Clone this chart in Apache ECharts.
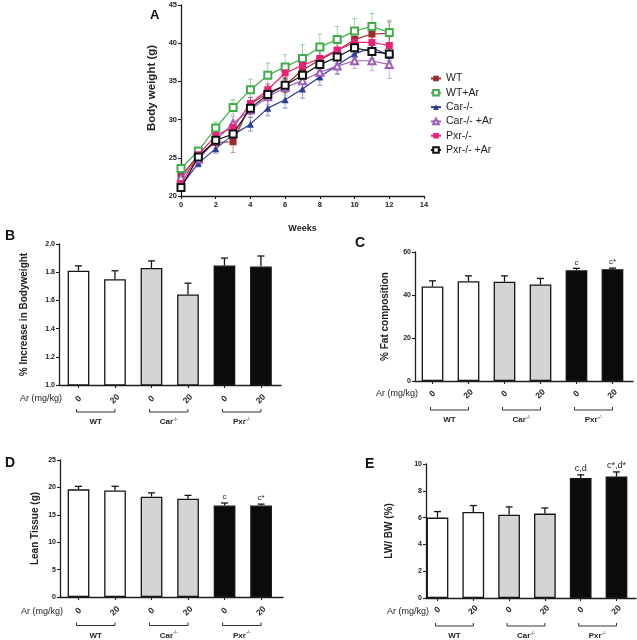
<!DOCTYPE html>
<html><head><meta charset="utf-8">
<script src="https://cdn.jsdelivr.net/npm/echarts@6/dist/echarts.min.js"></script>
<style>html,body{margin:0;padding:0;background:#fff}#c{width:637px;height:640px}</style>
</head><body><div id="c"></div>
<script>
// ---------- DATA ----------
const weeks = [0,1,2,3,4,5,6,7,8,9,10,11,12];
const seriesNames = ['WT','WT+Ar','Car-/-','Car-/- +Ar','Pxr-/-','Pxr-/- +Ar'];
const wt      = [22.6,25.3,27.0,27.1,32.0,33.5,34.5,36.5,37.8,39.0,40.5,41.2,41.3];
const wtAr    = [23.6,25.9,28.9,31.6,33.9,35.8,36.9,38.0,39.5,40.5,41.6,42.2,41.4];
const car     = [21.3,24.3,26.2,28.0,29.4,31.5,32.6,34.0,35.6,37.1,38.6,39.4,38.4];
const carAr   = [22.4,24.8,27.3,29.5,31.3,33.0,34.2,35.1,36.2,37.0,37.7,37.7,37.2];
const pxr     = [21.6,25.4,27.9,29.0,32.1,33.9,36.1,37.1,38.0,39.1,40.1,40.1,39.7];
const pxrAr   = [21.1,25.1,27.3,28.1,31.5,33.3,34.5,35.8,37.2,38.2,39.4,38.9,38.6];
const errWt    = [0.6,0.5,0.7,1.4,0.9,1.0,1.0,1.2,1.3,1.3,1.4,1.5,1.5];
const errWtAr  = [0.5,0.3,0.8,1.0,1.4,1.6,1.6,1.8,1.7,1.7,1.6,1.7,1.6];
const errCar   = [0.4,0.5,0.6,0.8,0.9,1.0,1.1,1.2,1.1,1.1,1.0,1.0,1.0];
const errCarAr = [0.6,0.6,0.7,0.9,1.0,1.0,1.0,1.1,1.1,1.1,1.0,1.3,1.8];
const errPxr   = [0.5,0.5,0.6,0.8,0.8,0.8,0.9,1.0,1.0,1.0,1.0,1.1,1.1];
const errPxrAr = [0.4,0.4,0.6,0.7,0.8,0.8,0.9,0.9,0.9,0.9,0.8,0.9,0.9];

const doseLabels = ['0','20','0','20','0','20'];
const groupNames = ['WT','Car','Pxr'];
const groupSup   = ['','-/-','-/-'];

const bwIncrease     = [1.81,1.75,1.83,1.642,1.847,1.84];
const bwIncreaseErr  = [0.035,0.06,0.05,0.08,0.053,0.075];
const bwIncreaseNote = ['','','','','',''];
const fatPct     = [44.0,46.4,46.2,44.9,51.5,52.0];
const fatPctErr  = [2.6,2.5,2.7,2.8,0.9,0.5];
const fatPctNote = ['','','','','c','c*'];
const leanTissue     = [19.64,19.45,18.3,17.95,16.7,16.7];
const leanTissueErr  = [0.55,0.75,0.7,0.6,0.45,0.25];
const leanTissueNote = ['','','','','c','c*'];
const lwbw     = [6.0,6.42,6.22,6.3,8.96,9.06];
const lwbwErr  = [0.45,0.48,0.58,0.42,0.23,0.35];
const lwbwNote = ['','','','','c,d','c*,d*'];

// ---------- STYLE ----------
const FONT = '"Liberation Sans", Arial, sans-serif';
const AX = '#1e1e1e';
const lineColors  = ['#9e2b2c','#3fae4a','#2b3c94','#9d5db6','#ea2279','#111111'];
const lineSymbols = ['rect','emptyRect','triangle','emptyTriangle','rect','emptyRect'];
const barFills = ['#ffffff','#ffffff','#d3d5d4','#d3d5d4','#0b0b0b','#0b0b0b'];

const chart = echarts.init(document.getElementById('c'));

const lineData = [wt,wtAr,car,carAr,pxr,pxrAr];
const lineErr  = [errWt,errWtAr,errCar,errCarAr,errPxr,errPxrAr];

function axisBase(){
  return {
    axisLine:{show:true,onZero:false,lineStyle:{color:AX,width:1.3}},
    axisTick:{show:true,length:3,lineStyle:{color:AX,width:1.1}},
    splitLine:{show:false}
  };
}

const grids = [
  {left:181, top:5,   width:243, height:191},
  {left:59,  top:244, width:222, height:141},
  {left:415, top:252, width:218, height:129},
  {left:60,  top:460, width:223, height:137},
  {left:426, top:464, width:210, height:134}
];

const xAxes = [], yAxes = [], series = [];

// Panel A
xAxes.push(Object.assign(axisBase(), {
  type:'value', gridIndex:0, min:0, max:14, interval:2,
  name:'Weeks', nameLocation:'middle', nameGap:28,
  nameTextStyle:{fontFamily:FONT,fontWeight:'bold',fontSize:9,color:'#222'},
  axisLabel:{fontFamily:FONT,fontWeight:'bold',fontSize:7.5,color:'#222',margin:5}
}));
yAxes.push(Object.assign(axisBase(), {
  type:'value', gridIndex:0, min:20, max:45, interval:5,
  axisLabel:{fontFamily:FONT,fontWeight:'bold',fontSize:7.5,color:'#222',margin:4}
}));

function lineErrRender(color){
  return function(params, api){
    const x = api.value(0), v = api.value(1), e = api.value(2);
    const t = api.coord([x, v+e]), b = api.coord([x, v-e]);
    const cw = 2.5;
    const st = {stroke:color, lineWidth:1, opacity:0.5};
    return {type:'group', children:[
      {type:'line', shape:{x1:t[0],y1:t[1],x2:b[0],y2:b[1]}, style:st},
      {type:'line', shape:{x1:t[0]-cw,y1:t[1],x2:t[0]+cw,y2:t[1]}, style:st},
      {type:'line', shape:{x1:b[0]-cw,y1:b[1],x2:b[0]+cw,y2:b[1]}, style:st}
    ]};
  };
}

lineData.forEach((arr, i) => {
  series.push({
    type:'custom', xAxisIndex:0, yAxisIndex:0, z:1, silent:true,
    renderItem: lineErrRender(lineColors[i]),
    data: weeks.map((w, j) => [w, arr[j], lineErr[i][j]])
  });
});
lineData.forEach((arr, i) => {
  series.push({
    name: seriesNames[i], type:'line', xAxisIndex:0, yAxisIndex:0, z:3+i,
    symbol: lineSymbols[i], symbolSize: 7, showSymbol:true,
    itemStyle:{color:lineColors[i], borderWidth: lineSymbols[i].startsWith('empty') ? 1.6 : 0},
    lineStyle:{color:lineColors[i], width:1.2},
    data: weeks.map((w, j) => [w, arr[j]])
  });
});

// Bar panels
const barPanels = [
  {vals:bwIncrease, errs:bwIncreaseErr, notes:bwIncreaseNote, min:1.0, max:2.0, interval:0.2, dec:1,
   xmin:-0.534, xmax:5.55, name:'% Increase in Bodyweight', nameGap:30, labMargin:14, noteSize:8},
  {vals:fatPct, errs:fatPctErr, notes:fatPctNote, min:0, max:60, interval:20, dec:0,
   xmin:-0.486, xmax:5.57, name:'% Fat composition', nameGap:25, labMargin:13, noteSize:8},
  {vals:leanTissue, errs:leanTissueErr, notes:leanTissueNote, min:0, max:25, interval:5, dec:0,
   xmin:-0.507, xmax:5.6, name:'Lean Tissue (g)', nameGap:20, labMargin:14, noteSize:8},
  {vals:lwbw, errs:lwbwErr, notes:lwbwNote, min:0, max:10, interval:2, dec:0,
   xmin:-0.321, xmax:5.545, name:'LW/ BW (%)', nameGap:32, labMargin:12, noteSize:9}
];
const idx = [0,1,2,3,4,5];

barPanels.forEach((p, k) => {
  const g = k + 1;
  xAxes.push(Object.assign(axisBase(), {
    type:'value', gridIndex:g, min:p.xmin, max:p.xmax,
    axisTick:{show:true,length:3,customValues:idx,lineStyle:{color:AX,width:1.1}},
    axisLabel:{show:true, customValues:idx, rotate:45, align:'center', verticalAlign:'middle',
      margin:p.labMargin, fontFamily:FONT, fontWeight:'bold', fontSize:8.5, color:'#222',
      formatter: v => doseLabels[Math.round(v)]}
  }));
  yAxes.push(Object.assign(axisBase(), {
    type:'value', gridIndex:g, min:p.min, max:p.max, interval:p.interval,
    name:p.name, nameLocation:'middle', nameGap:p.nameGap, nameRotate:90,
    nameTextStyle:{fontFamily:FONT,fontWeight:'bold',fontSize:10,color:'#222'},
    axisLabel:{fontFamily:FONT,fontWeight:'bold',fontSize:7,color:'#222',margin:4,
      formatter: v => v.toFixed(p.dec)}
  }));
  series.push({
    type:'bar', xAxisIndex:g, yAxisIndex:g, barWidth:21.7, z:2,
    data: p.vals.map((v, i) => ({value:[i, v],
      itemStyle:{color:barFills[i], borderColor:'#151515', borderWidth:1.3}}))
  });
  series.push({
    type:'custom', xAxisIndex:g, yAxisIndex:g, z:1, silent:true,
    renderItem: function(params, api){
      const x = api.value(0), v = api.value(1), e = api.value(2);
      const b = api.coord([x, v]), t = api.coord([x, v+e]);
      const cw = 3.5;
      const st = {stroke:'#151515', lineWidth:1.3};
      const ch = [
        {type:'line', shape:{x1:t[0],y1:t[1],x2:b[0],y2:b[1]}, style:st},
        {type:'line', shape:{x1:t[0]-cw,y1:t[1],x2:t[0]+cw,y2:t[1]}, style:st}
      ];
      const note = p.notes[params.dataIndex];
      if (note) ch.push({type:'text', x:t[0], y:t[1]-2, style:{text:note, textAlign:'center',
        textVerticalAlign:'bottom', font:p.noteSize+'px '+FONT, fill:'#222'}});
      return {type:'group', children:ch};
    },
    data: p.vals.map((v, i) => [i, v, p.errs[i]])
  });
});

const baseGraphics = [
  {type:'text', x:150, y:9,   style:{text:'A', font:'bold 13px '+FONT, fill:'#111'}},
  {type:'text', x:5,   y:229, style:{text:'B', font:'bold 14px '+FONT, fill:'#111'}},
  {type:'text', x:355, y:236, style:{text:'C', font:'bold 14px '+FONT, fill:'#111'}},
  {type:'text', x:5,   y:456, style:{text:'D', font:'bold 14px '+FONT, fill:'#111'}},
  {type:'text', x:365, y:457, style:{text:'E', font:'bold 14px '+FONT, fill:'#111'}},
  {type:'text', x:152, y:88, rotation:Math.PI/2,
    style:{text:'Body weight (g)', textAlign:'center', textVerticalAlign:'middle', font:'bold 11.5px '+FONT, fill:'#222'}}
];

chart.setOption({
  animation:false,
  backgroundColor:'#fff',
  grid: grids,
  xAxis: xAxes,
  yAxis: yAxes,
  legend:{data:seriesNames, orient:'vertical', left:425, top:68, itemWidth:10, itemHeight:7, itemGap:3.3,
    textStyle:{fontFamily:FONT, fontSize:10.5, color:'#222'}},
  series: series,
  graphic: baseGraphics
});

// Annotations positioned from the axes: "Ar (mg/kg)", brackets, group labels
const extra = [];
const arOffsets = [14, 13, 15, 14];
const bracketOffsets = [27, 29, 28.5, 28];
barPanels.forEach((p, k) => {
  const g = k + 1;
  const y0 = chart.convertToPixel({gridIndex:g}, [0, p.min])[1];
  const xl = grids[g].left;
  extra.push({type:'text', x:xl+3, y:y0+arOffsets[k], style:{text:'Ar (mg/kg)', textAlign:'right',
    textVerticalAlign:'middle', font:'9px '+FONT, fill:'#222'}});
  for (let j = 0; j < 3; j++) {
    const xa = chart.convertToPixel({gridIndex:g}, [2*j, p.min])[0] - 2;
    const xb = chart.convertToPixel({gridIndex:g}, [2*j+1, p.min])[0];
    const yb = y0 + bracketOffsets[k];
    extra.push({type:'polyline', shape:{points:[[xa,yb-3],[xa,yb],[xb,yb],[xb,yb-3]]},
      style:{stroke:'#333', lineWidth:1, fill:null}});
    extra.push({type:'text', x:(xa+xb)/2, y:yb+10, style:{
      text: groupSup[j] ? '{b|'+groupNames[j]+'}{s|'+groupSup[j]+'}' : '{b|'+groupNames[j]+'}',
      textAlign:'center', textVerticalAlign:'middle', fill:'#222',
      rich:{b:{font:'bold 8px '+FONT, fill:'#222', lineHeight:10},
            s:{font:'5px '+FONT, fill:'#222', verticalAlign:'top', lineHeight:10}}}});
  }
});
chart.setOption({graphic: baseGraphics.concat(extra)});
</script>
</body></html>
